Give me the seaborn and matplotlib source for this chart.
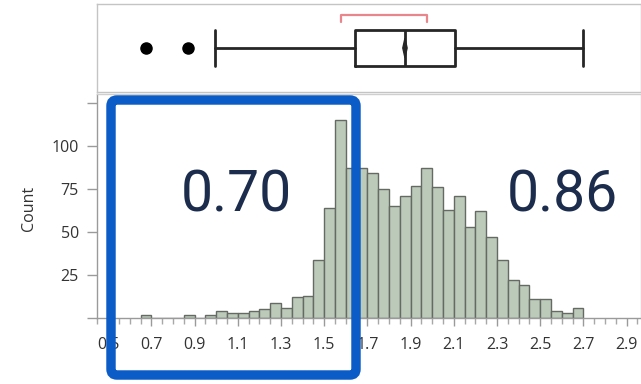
import numpy as np
import pandas as pd
import matplotlib
matplotlib.use("Agg")
import matplotlib.pyplot as plt
import seaborn as sns
from matplotlib.patches import FancyBboxPatch
from matplotlib.ticker import MultipleLocator, FixedLocator, FixedFormatter
from matplotlib.transforms import IdentityTransform

# ---- data -------------------------------------------------------------
bin_width = 0.05
bin_start = 0.65
counts = [2, 0, 0, 0, 2, 0, 2, 4, 3, 3,
          4, 5, 9, 6, 12, 13, 34, 64, 115, 87,
          87, 84, 75, 65, 71, 77, 87, 76, 63, 71,
          53, 62, 47, 34, 22, 19, 11, 11, 4, 3, 6]

x_tick_values = [0.5, 0.7, 0.9, 1.1, 1.3, 1.5, 1.7, 1.9, 2.1, 2.3, 2.5, 2.7, 2.9]
x_tick_labels = ["0.5", "0.7", "0.9", "1.1", "1.3", "1.5", "1.7", "1.9",
                 "2.1", "2.3", "2.5", "2.7", "2.9"]
y_tick_values = [0, 25, 50, 75, 100, 125]
y_tick_labels = ["", "25", "50", "75", "100", ""]

# outlier box plot summary
box_q1, box_median, box_q3 = 1.643, 1.874, 2.106
whisker_lo, whisker_hi = 0.994, 2.698
outliers = [0.675, 0.869]
mean_val = 1.874
mean_ci = (1.864, 1.884)
shortest_half = (1.578, 1.976)

left_value = "0.70"
right_value = "0.86"

# ---- styling ------------------------------------------------------------
sns.set_theme(style="white")
plt.rcParams["font.family"] = ["Open Sans", "DejaVu Sans"]

W, H = 641, 384
fig = plt.figure(figsize=(W / 100, H / 100), dpi=100)

ax_h = fig.add_axes([97 / W, (H - 318) / H, 1 - 97 / W, (318 - 94) / H])
ax_b = fig.add_axes([97 / W, (H - 92) / H, 1 - 97 / W, 88 / H])

xlim = (0.448, 2.967)
label_color = "#333333"

# ---- histogram ----------------------------------------------------------
edges = [round(bin_start + bin_width * i, 4) for i in range(len(counts) + 1)]
centers = [round(bin_start + bin_width * (i + 0.5), 4) for i in range(len(counts))]
df = pd.DataFrame({"value": centers, "count": counts})
sns.histplot(data=df, x="value", weights="count", bins=edges, ax=ax_h,
             color="#bccaba", edgecolor="#656a63", linewidth=1.0, alpha=1.0)

ax_h.set_xlim(*xlim)
ax_h.set_ylim(0, 130.2)
ax_h.xaxis.set_major_locator(FixedLocator(x_tick_values))
ax_h.xaxis.set_major_formatter(FixedFormatter(x_tick_labels))
ax_h.xaxis.set_minor_locator(MultipleLocator(0.05))
ax_h.yaxis.set_major_locator(FixedLocator(y_tick_values))
ax_h.yaxis.set_major_formatter(FixedFormatter(y_tick_labels))
ax_h.tick_params(axis="x", which="major", direction="out", length=6, width=1,
                 color="#9a9a9a", labelsize=11.5, labelcolor=label_color, pad=8,
                 bottom=True)
ax_h.tick_params(axis="x", which="minor", direction="out", length=4, width=1,
                 color="#a8a8a8", bottom=True)
ax_h.tick_params(axis="y", which="major", direction="out", length=7, width=1,
                 color="#9a9a9a", labelsize=11.5, labelcolor=label_color, pad=6,
                 left=True)
ax_h.set_xlabel("")
ax_h.set_ylabel("Count", fontsize=11.5, color=label_color)
ax_h.yaxis.set_label_coords(-0.11, 0.49)
for side, col in [("left", "#9a9a9a"), ("bottom", "#9a9a9a"),
                  ("top", "#cfcfcf"), ("right", "#cfcfcf")]:
    ax_h.spines[side].set_color(col)
    ax_h.spines[side].set_linewidth(1.0)

# ---- outlier box plot -----------------------------------------------------
stats = [{"med": box_median, "q1": box_q1, "q3": box_q3,
          "whislo": whisker_lo, "whishi": whisker_hi, "fliers": outliers}]
line_kw = dict(color="#262626", linewidth=2.0)
ax_b.bxp(stats, positions=[0.5], widths=0.4, capwidths=0.42,
         orientation="horizontal", showfliers=True, manage_ticks=False,
         boxprops=line_kw, whiskerprops=line_kw, capprops=line_kw,
         medianprops=line_kw,
         flierprops=dict(marker="o", markerfacecolor="black",
                         markeredgecolor="black", markersize=8))
# mean diamond
ax_b.fill([mean_ci[0], mean_val, mean_ci[1], mean_val],
          [0.5, 0.61, 0.5, 0.39], color="#262626", zorder=4)
# shortest half bracket
ax_b.plot([shortest_half[0], shortest_half[0], shortest_half[1], shortest_half[1]],
          [0.80, 0.875, 0.875, 0.80], color="#e8868c", linewidth=1.6)
ax_b.set_xlim(*xlim)
ax_b.set_ylim(0, 1)
ax_b.set_xticks([])
ax_b.set_yticks([])
for side in ax_b.spines:
    ax_b.spines[side].set_color("#c4c4c4")
    ax_b.spines[side].set_linewidth(1.0)

# ---- annotations ------------------------------------------------------------
text_kw = dict(fontsize=41, color="#1c2c4c", ha="center", va="center",
               fontweight="normal", family=["Roboto", "Liberation Sans", "DejaVu Sans"])
fig.text(236 / W, (H - 196) / H, left_value, **text_kw)
fig.text(562 / W, (H - 196) / H, right_value, **text_kw)

frame = FancyBboxPatch((111, H - 375), 245, 275,
                       boxstyle="round,pad=0,rounding_size=6",
                       transform=IdentityTransform(), fill=False,
                       edgecolor="#0b5cc7", linewidth=6.8, zorder=10)
fig.add_artist(frame)

fig.savefig("out.png", dpi=100)
